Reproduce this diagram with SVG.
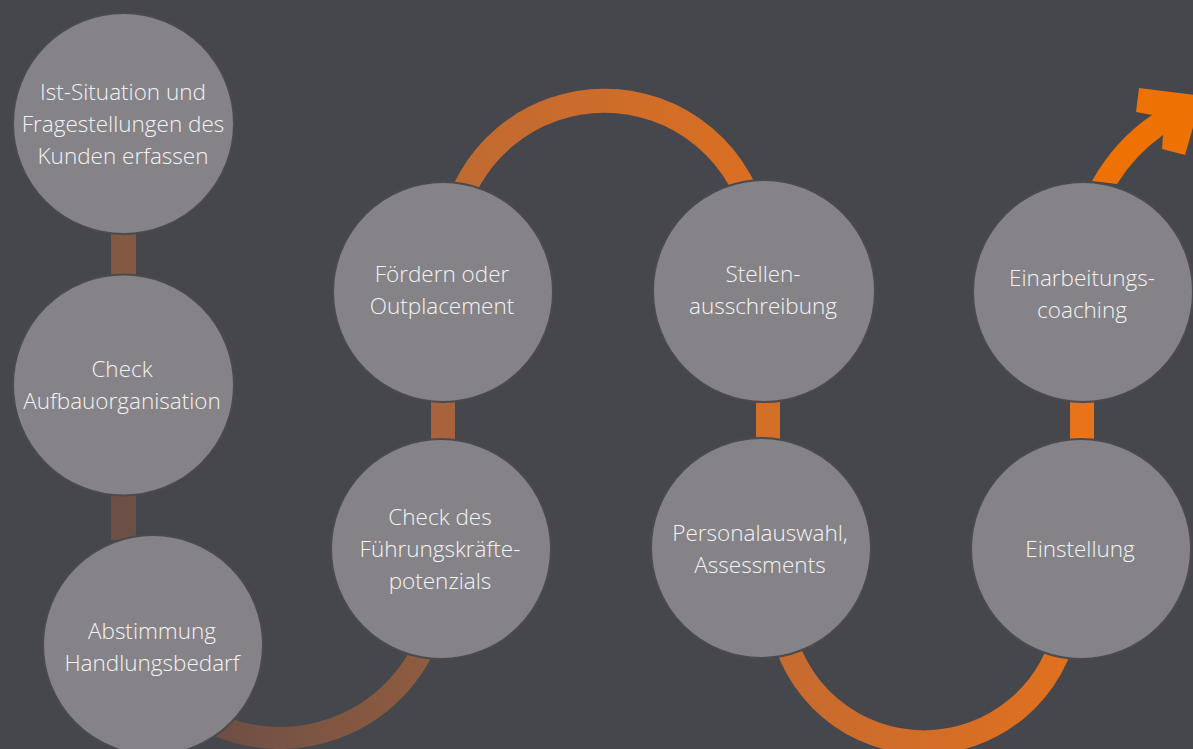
<svg xmlns="http://www.w3.org/2000/svg" width="1193" height="749" viewBox="0 0 1193 749">
<defs>
<style>
.node{fill:#858388;stroke:#4a4a4f;stroke-width:2}
.lbl{font-family:"Open Sans","Liberation Sans",sans-serif;font-size:22.5px;fill:#f3f3f3;text-anchor:middle;font-weight:300}
.arc{fill:none}
</style>
<linearGradient id="gBL" gradientUnits="userSpaceOnUse" x1="200" y1="0" x2="430" y2="0">
<stop offset="0" stop-color="#6b4e46"/><stop offset="1" stop-color="#8f5c3f"/>
</linearGradient>
<linearGradient id="gTop" gradientUnits="userSpaceOnUse" x1="460" y1="0" x2="750" y2="0">
<stop offset="0" stop-color="#c06a32"/><stop offset="1" stop-color="#da6f22"/>
</linearGradient>
<linearGradient id="gBM" gradientUnits="userSpaceOnUse" x1="780" y1="0" x2="1070" y2="0">
<stop offset="0" stop-color="#c66b30"/><stop offset="1" stop-color="#e0701e"/>
</linearGradient>
</defs>
<rect width="1193" height="749" fill="#46474c"/>
<g id="connectors">
<rect x="111" y="234" width="25" height="42" fill="#845944"/>
<rect x="111" y="494" width="25" height="46" fill="#6c4f47"/>
<path class="arc" d="M188 709 A160 160 0 0 0 434.5 619" stroke="url(#gBL)" stroke-width="22"/>
<rect x="431" y="400" width="24" height="40" fill="#a8633d"/>
<path class="arc" d="M452 228 A155 155 0 0 1 757 228" stroke="url(#gTop)" stroke-width="24"/>
<rect x="756" y="400" width="24" height="40" fill="#d46f27"/>
<path class="arc" d="M781 622 A145 145 0 0 0 1066.8 622" stroke="url(#gBM)" stroke-width="24"/>
<rect x="1070" y="400" width="24" height="40" fill="#e8731a"/>
<path d="M1092 181 Q1115 140 1152 115 L1136 112 L1139 88 L1202 96 L1185 155 L1162 149 L1163 135 Q1135 155 1117 184 Z" fill="#ee7203"/>
</g>
<g id="n1"><circle class="node" cx="123.5" cy="123.5" r="110.5"/>
<text class="lbl" x="123" y="100">Ist-Situation und</text>
<text class="lbl" x="123" y="132">Fragestellungen des</text>
<text class="lbl" x="123" y="164">Kunden erfassen</text></g>
<g id="n2"><circle class="node" cx="123.5" cy="385" r="110.5"/>
<text class="lbl" x="122" y="377">Check</text>
<text class="lbl" x="122" y="409">Aufbauorganisation</text></g>
<g id="n3"><circle class="node" cx="153" cy="645" r="110"/>
<text class="lbl" x="152" y="639">Abstimmung</text>
<text class="lbl" x="152" y="671">Handlungsbedarf</text></g>
<g id="n4"><circle class="node" cx="441" cy="549" r="110"/>
<text class="lbl" x="440" y="525">Check des</text>
<text class="lbl" x="440" y="557">Führungskräfte-</text>
<text class="lbl" x="440" y="589">potenzials</text></g>
<g id="n5"><circle class="node" cx="443" cy="292" r="110"/>
<text class="lbl" x="442" y="282">Fördern oder</text>
<text class="lbl" x="442" y="314">Outplacement</text></g>
<g id="n6"><circle class="node" cx="764" cy="291" r="111"/>
<text class="lbl" x="763" y="282">Stellen-</text>
<text class="lbl" x="763" y="314">ausschreibung</text></g>
<g id="n7"><circle class="node" cx="761" cy="548" r="110"/>
<text class="lbl" x="760" y="541">Personalauswahl,</text>
<text class="lbl" x="760" y="573">Assessments</text></g>
<g id="n8"><circle class="node" cx="1083" cy="292" r="110"/>
<text class="lbl" x="1082" y="286">Einarbeitungs-</text>
<text class="lbl" x="1082" y="318">coaching</text></g>
<g id="n9"><circle class="node" cx="1081" cy="549" r="110"/>
<text class="lbl" x="1080" y="557">Einstellung</text></g>
</svg>
